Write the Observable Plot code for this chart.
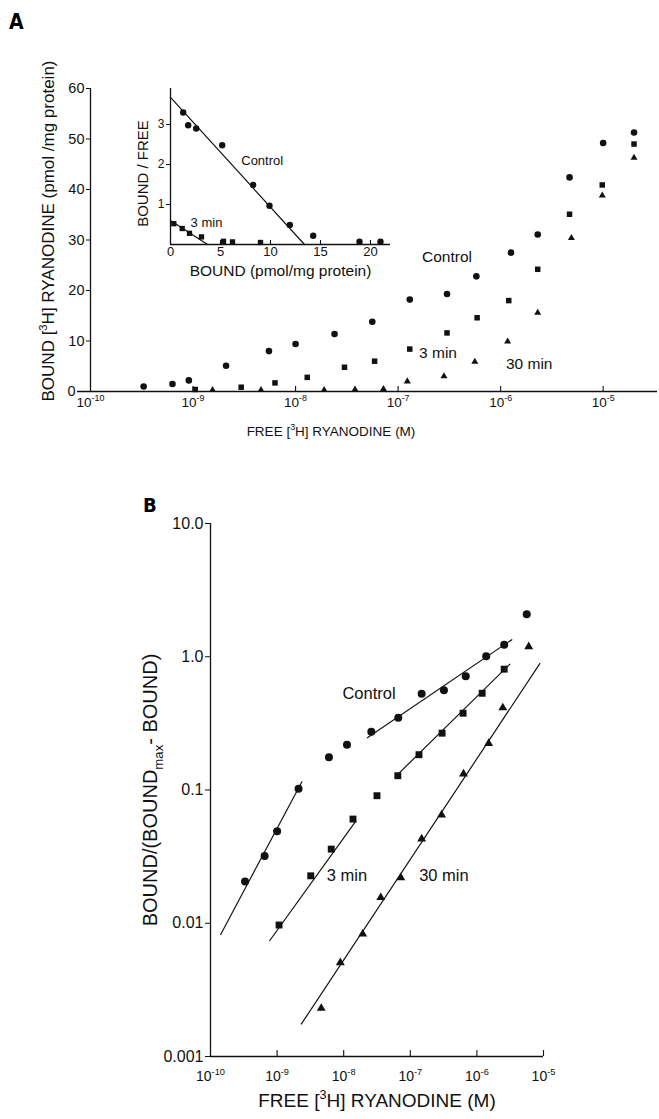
<!DOCTYPE html>
<html><head><meta charset="utf-8">
<script src="https://cdn.jsdelivr.net/npm/d3@7"></script>
<script src="https://cdn.jsdelivr.net/npm/@observablehq/plot@0.6"></script>
<style>
body{margin:0;background:#fff;}
#fig{position:relative;width:659px;height:1119px;overflow:hidden;}
.panel{position:absolute;font-family:"Liberation Sans Narrow","DejaVu Sans Condensed",sans-serif;font-weight:bold;line-height:1;}
</style></head><body>
<div id="fig">
<div class="panel" style="left:9px;top:12px;font-size:21px">A</div>
<div class="panel" style="left:143px;top:495px;font-size:20px">B</div>
</div>
<script>
// ---------- Panel A: bound vs free (semi-log) ----------
const aControlFree = [3.3e-10, 6.3e-10, 9.1e-10, 2.1e-9, 5.5e-9, 1.0e-8, 2.4e-8, 5.6e-8, 1.3e-7, 3.0e-7, 5.8e-7, 1.26e-6, 2.3e-6, 4.7e-6, 1.0e-5, 2.0e-5];
const aControlBound = [1.0, 1.5, 2.2, 5.1, 8.0, 9.4, 11.4, 13.8, 18.2, 19.3, 22.8, 27.5, 31.1, 42.4, 49.2, 51.3];
const a3Free = [1.05e-9, 2.95e-9, 6.3e-9, 1.3e-8, 3.0e-8, 5.9e-8, 1.3e-7, 3.0e-7, 5.9e-7, 1.2e-6, 2.3e-6, 4.7e-6, 9.8e-6, 2.0e-5];
const a3Bound = [0.4, 0.85, 1.7, 2.8, 4.8, 6.0, 8.4, 11.6, 14.6, 18.0, 24.2, 35.1, 40.9, 49.0];
const a30Free = [1.55e-9, 4.6e-9, 1.9e-8, 3.8e-8, 7.2e-8, 1.23e-7, 2.8e-7, 5.6e-7, 1.17e-6, 2.3e-6, 4.9e-6, 9.8e-6, 2.0e-5];
const a30Bound = [0.3, 0.3, 0.3, 0.4, 0.5, 2.0, 3.0, 5.9, 9.9, 15.6, 30.4, 38.8, 46.3];
const aXTicks = [1e-10, 1e-9, 1e-8, 1e-7, 1e-6, 1e-5];
const aXTickLabels = ["10^{-10}", "10^{-9}", "10^{-8}", "10^{-7}", "10^{-6}", "10^{-5}"];
const aYTicks = [10, 20, 30, 40, 50, 60];
const aYZero = [0];
const aXLabel = "FREE [^{3}H] RYANODINE (M)";
const aYLabel = "BOUND [^{3}H] RYANODINE (pmol /mg protein)";
const aLabelText = ["Control", "3 min", "30 min"];
const aLabelX = [3.0e-7, 2.45e-7, 1.9e-6];
const aLabelY = [26.7, 7.7, 5.5];

// ---------- Inset: Scatchard plot ----------
const iControlBound = [1.27, 1.77, 2.57, 5.17, 8.27, 9.9, 11.93, 14.27, 18.9, 21.0];
const iControlRatio = [3.3, 2.98, 2.9, 2.48, 1.49, 0.97, 0.49, 0.22, 0.07, 0.07];
const i3Bound = [0.33, 1.17, 1.9, 3.1, 5.3, 6.2, 9.0];
const i3Ratio = [0.52, 0.40, 0.28, 0.19, 0.08, 0.065, 0.05];
const iControlFitX = [0, 13.4], iControlFitY = [3.68, 0];
const i3FitX = [0, 3.7], i3FitY = [0.6, 0];
const iXTicks = [0, 5, 10, 15, 20];
const iYTicks = [1, 2, 3];
const iXLabel = "BOUND (pmol/mg protein)";
const iYLabel = "BOUND / FREE";
const iLabelText = ["Control", "3 min"];
const iLabelX = [9.17, 3.6];
const iLabelY = [2.08, 0.54];

// ---------- Panel B: Hill plot (log-log) ----------
const bControlFree = [3.3e-10, 6.5e-10, 1.0e-9, 2.1e-9, 6.0e-9, 1.12e-8, 2.6e-8, 6.6e-8, 1.48e-7, 3.2e-7, 6.8e-7, 1.38e-6, 2.57e-6, 5.6e-6];
const bControlRatio = [0.0206, 0.032, 0.049, 0.102, 0.176, 0.219, 0.274, 0.348, 0.527, 0.56, 0.714, 1.01, 1.23, 2.08];
const b3Free = [1.07e-9, 3.2e-9, 6.5e-9, 1.38e-8, 3.16e-8, 6.5e-8, 1.35e-7, 3.0e-7, 6.2e-7, 1.2e-6, 2.57e-6];
const b3Ratio = [0.0097, 0.0227, 0.036, 0.0605, 0.0906, 0.128, 0.184, 0.267, 0.377, 0.532, 0.807];
const b30Free = [4.6e-9, 8.9e-9, 1.93e-8, 3.6e-8, 7.2e-8, 1.48e-7, 2.95e-7, 6.3e-7, 1.5e-6, 2.45e-6, 6.0e-6];
const b30Ratio = [0.0023, 0.00506, 0.0083, 0.0156, 0.022, 0.043, 0.065, 0.132, 0.224, 0.414, 1.19];
const bFitSeg = ["Control low", "Control high", "3 min low", "3 min high", "30 min"];
const bFitX1 = [1.41e-10, 2.24e-8, 7.67e-10, 6.0e-8, 2.29e-9];
const bFitY1 = [0.00817, 0.246, 0.00736, 0.126, 0.00174];
const bFitX2 = [2.37e-9, 3.39e-6, 1.53e-8, 3.16e-6, 8.9e-6];
const bFitY2 = [0.116, 1.35, 0.0587, 0.885, 0.895];
const bXTicks = [1e-10, 1e-9, 1e-8, 1e-7, 1e-6, 1e-5];
const bXTickLabels = ["10^{-10}", "10^{-9}", "10^{-8}", "10^{-7}", "10^{-6}", "10^{-5}"];
const bYTicks = [10, 1, 0.1, 0.01, 0.001];
const bYTickLabels = ["10.0", "1.0", "0.1", "0.01", "0.001"];
const bXLabel = "FREE [^{3}H] RYANODINE (M)";
const bYLabel = "BOUND/(BOUND_{max}- BOUND)";
const bLabelText = ["Control", "3 min", "30 min"];
const bLabelX = [2.4e-8, 1.12e-8, 3.2e-7];
const bLabelY = [0.53, 0.0227, 0.0227];

// ---------- helpers ----------
const rows = (xs, ys) => xs.map((x, i) => ({x, y: ys[i]}));
const FONT = '"Liberation Sans", Arial, sans-serif';
const ink = "#111";

function rich(svg) {
  svg.querySelectorAll("text").forEach(t => {
    const s = t.textContent;
    if (!/[\^_]\{/.test(s)) return;
    let el = t, fs = null;
    while (el && fs == null) { if (el.getAttribute && el.getAttribute("font-size")) fs = parseFloat(el.getAttribute("font-size")); el = el.parentNode; }
    fs = fs || 12;
    t.textContent = "";
    let shift = 0;
    s.split(/([\^_]\{[^}]*\})/).forEach(p => {
      if (!p) return;
      let txt = p, target = 0, size = null;
      const m = p.match(/^([\^_])\{([^}]*)\}$/);
      if (m) { txt = m[2]; target = m[1] === "^" ? 0.42 * fs : -0.28 * fs; size = 0.66 * fs; }
      const ts = document.createElementNS("http://www.w3.org/2000/svg", "tspan");
      ts.setAttribute("dy", String(shift - target));
      if (size) ts.setAttribute("font-size", size);
      ts.textContent = txt;
      t.appendChild(ts);
      shift = target;
    });
  });
}
function place(svg, left, top) {
  svg.style.position = "absolute";
  svg.style.left = left + "px";
  svg.style.top = top + "px";
  svg.style.background = "transparent";
  svg.style.fontFamily = FONT;
  svg.style.maxWidth = "none";
  svg.style.overflow = "visible";
  rich(svg);
  document.getElementById("fig").appendChild(svg);
}

// ---------- Panel A ----------
const aH = 450, aMT = 88, aMB = 59;
const A = Plot.plot({
  width: 659, height: aH,
  marginLeft: 90, marginRight: 2, marginTop: aMT, marginBottom: aMB,
  x: {type: "log", domain: [1e-10, 10 ** -4.47], axis: null},
  y: {domain: [0, 60], axis: null},
  marks: [
    Plot.ruleX([1e-10], {stroke: ink, strokeWidth: 1.3}),
    Plot.ruleY([0], {stroke: ink, strokeWidth: 1.3, insetLeft: -13}),
    Plot.ruleX(aXTicks.slice(1), {stroke: ink, strokeWidth: 1.1, insetTop: aH - aMT - aMB - 5}),
    Plot.axisY({ticks: aYTicks, anchor: "left", tickSize: 4, tickPadding: 2, fontSize: 14.5, label: null, tickFormat: d => String(d), stroke: ink, fill: ink}),
    Plot.text(aYZero, {y: d => d, frameAnchor: "left", dx: -15, textAnchor: "end", text: d => String(d), fontSize: 14.5, fill: ink}),
    Plot.text(aXTicks, {x: d => d, frameAnchor: "bottom", dy: 15, text: (d, i) => aXTickLabels[i], fontSize: 13.5, fill: ink}),
    Plot.text([aXLabel], {frameAnchor: "bottom", dx: -43, dy: 44, text: d => d, fontSize: 13.5, fill: ink}),
    Plot.text([aYLabel], {frameAnchor: "left", textAnchor: "middle", dx: -42, dy: -9, rotate: -90, text: d => d, fontSize: 17, fill: ink}),
    Plot.dot(rows(aControlFree, aControlBound), {x: "x", y: "y", symbol: "circle", r: 3.3, fill: ink}),
    Plot.dot(rows(a3Free, a3Bound), {x: "x", y: "y", symbol: "square", r: 3.1, fill: ink}),
    Plot.dot(rows(a30Free, a30Bound), {x: "x", y: "y", symbol: "triangle", r: 2.6, fill: ink}),
    Plot.text(aLabelText, {x: (d, i) => aLabelX[i], y: (d, i) => aLabelY[i], text: d => d, fontSize: 15.5, fill: ink})
  ]
});
place(A, 0, 0);

// ---------- Inset ----------
const iH = 220, iMT = 18, iMB = 46;
const I = Plot.plot({
  width: 280, height: iH,
  marginLeft: 50, marginRight: 10, marginTop: iMT, marginBottom: iMB,
  x: {domain: [0, 22], axis: null},
  y: {domain: [0, 3.9], axis: null},
  marks: [
    Plot.ruleX([0], {stroke: ink, strokeWidth: 1.3}),
    Plot.ruleY([0], {stroke: ink, strokeWidth: 1.3}),
    Plot.ruleX(iXTicks.slice(1), {stroke: ink, strokeWidth: 1.1, insetTop: iH - iMT - iMB - 4}),
    Plot.axisY({ticks: iYTicks, anchor: "left", tickSize: 4, tickPadding: 2, fontSize: 12, label: null, tickFormat: d => String(d), stroke: ink, fill: ink}),
    Plot.text(iXTicks, {x: d => d, frameAnchor: "bottom", dy: 11, text: d => String(d), fontSize: 13, fill: ink}),
    Plot.text([iXLabel], {frameAnchor: "bottom", dy: 31, text: d => d, fontSize: 15.5, fill: ink}),
    Plot.text([iYLabel], {frameAnchor: "left", textAnchor: "middle", dx: -27, dy: 7, rotate: -90, text: d => d, fontSize: 15, fill: ink}),
    Plot.line(rows(iControlFitX, iControlFitY), {x: "x", y: "y", stroke: ink, strokeWidth: 1.2}),
    Plot.line(rows(i3FitX, i3FitY), {x: "x", y: "y", stroke: ink, strokeWidth: 1.2}),
    Plot.dot(rows(iControlBound, iControlRatio), {x: "x", y: "y", symbol: "circle", r: 3.2, fill: ink}),
    Plot.dot(rows(i3Bound, i3Ratio), {x: "x", y: "y", symbol: "square", r: 3.0, fill: ink}),
    Plot.text(iLabelText, {x: (d, i) => iLabelX[i], y: (d, i) => iLabelY[i], text: d => d, fontSize: 13, fill: ink})
  ]
});
place(I, 120, 70);

// ---------- Panel B ----------
const bH = 659, bMT = 63, bMB = 63;
const bFit = bFitSeg.map((s, i) => ({s, x1: bFitX1[i], y1: bFitY1[i], x2: bFitX2[i], y2: bFitY2[i]}));
const B = Plot.plot({
  width: 659, height: bH,
  marginLeft: 210, marginRight: 116, marginTop: bMT, marginBottom: bMB,
  x: {type: "log", domain: [1e-10, 1e-5], axis: null},
  y: {type: "log", domain: [0.001, 10], axis: null},
  marks: [
    Plot.ruleX([1e-10], {stroke: ink, strokeWidth: 1.3}),
    Plot.ruleY([0.001], {stroke: ink, strokeWidth: 1.3}),
    Plot.ruleX(bXTicks.slice(1), {stroke: ink, strokeWidth: 1.1, insetTop: bH - bMT - bMB - 6}),
    Plot.axisY({ticks: bYTicks, anchor: "left", tickSize: 5, tickPadding: 2, fontSize: 16, label: null, tickFormat: d => bYTickLabels[bYTicks.indexOf(d)], stroke: ink, fill: ink}),
    Plot.text(bXTicks, {x: d => d, frameAnchor: "bottom", dy: 24, text: (d, i) => bXTickLabels[i], fontSize: 14, fill: ink}),
    Plot.text([bXLabel], {frameAnchor: "bottom", dy: 50, text: d => d, fontSize: 19, fill: ink}),
    Plot.text([bYLabel], {frameAnchor: "left", textAnchor: "middle", dx: -60, rotate: -90, text: d => d, fontSize: 20, fill: ink}),
    Plot.link(bFit, {x1: "x1", y1: "y1", x2: "x2", y2: "y2", stroke: ink, strokeWidth: 1.2}),
    Plot.dot(rows(bControlFree, bControlRatio), {x: "x", y: "y", symbol: "circle", r: 4, fill: ink}),
    Plot.dot(rows(b3Free, b3Ratio), {x: "x", y: "y", symbol: "square", r: 3.9, fill: ink}),
    Plot.dot(rows(b30Free, b30Ratio), {x: "x", y: "y", symbol: "triangle", r: 3.3, fill: ink}),
    Plot.text(bLabelText, {x: (d, i) => bLabelX[i], y: (d, i) => bLabelY[i], text: d => d, fontSize: 16.5, fill: ink})
  ]
});
place(B, 0, 460);
</script>
</body></html>
